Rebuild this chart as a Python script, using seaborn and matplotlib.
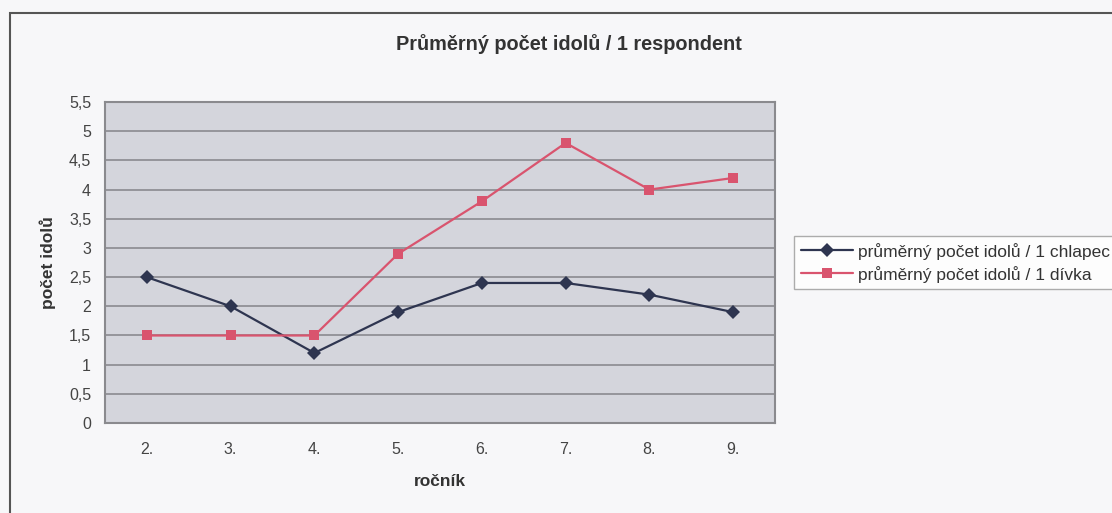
import matplotlib.pyplot as plt
import pandas as pd
import seaborn as sns

# values
rocnik = ['2.', '3.', '4.', '5.', '6.', '7.', '8.', '9.']
chlapec = [2.5, 2.0, 1.2, 1.9, 2.4, 2.4, 2.2, 1.9]
divka = [1.5, 1.5, 1.5, 2.9, 3.8, 4.8, 4.0, 4.2]
y_ticks = [0, 0.5, 1, 1.5, 2, 2.5, 3, 3.5, 4, 4.5, 5, 5.5]
lbl_chlapec = 'průměrný počet idolů / 1 chlapec'
lbl_divka = 'průměrný počet idolů / 1 dívka'

df = pd.DataFrame({
    'rocnik': rocnik * 2,
    'pocet': chlapec + divka,
    'serie': [lbl_chlapec] * len(rocnik) + [lbl_divka] * len(rocnik),
})

sns.set_theme(style='white')
plt.rcParams['font.family'] = ['Liberation Sans', 'DejaVu Sans']

fig = plt.figure(figsize=(11.12, 5.13), dpi=100)
fig.patch.set_facecolor('#f7f7f9')
ax = fig.add_axes([0.0944, 0.1754, 0.6026, 0.6256])
ax.set_facecolor('#d4d5dc')

# chart frame (scan cuts it off on the right and bottom)
fig.add_artist(plt.Rectangle((10 / 1112, -0.1), 1.2, 1 - 13 / 513 + 0.1,
                             transform=fig.transFigure, fill=False,
                             edgecolor='#555555', linewidth=1.5))

sns.lineplot(data=df, x='rocnik', y='pocet', hue='serie', style='serie',
             palette={lbl_chlapec: '#2e3550', lbl_divka: '#d9546e'},
             markers={lbl_chlapec: 'D', lbl_divka: 's'},
             dashes=False, markersize=7.5, linewidth=1.6,
             markeredgewidth=0, sort=False, ax=ax)

ax.set_xlim(-0.5, len(rocnik) - 0.5)
ax.set_ylim(0, 5.5)
ax.set_yticks(y_ticks)
ax.set_yticklabels([f'{v:g}'.replace('.', ',') for v in y_ticks])
ax.yaxis.grid(True, color='#8a8a90', linewidth=1.2)
ax.set_axisbelow(True)
for s in ax.spines.values():
    s.set_color('#8a8a8e')
    s.set_linewidth(1.5)
ax.tick_params(axis='both', labelsize=11.5, colors='#444444', length=0, pad=10)
ax.tick_params(axis='x', pad=14)

ax.set_xlabel('ročník', fontsize=12.5, fontweight='bold', color='#333333', labelpad=12)
ax.set_ylabel('počet idolů', fontsize=12.5, fontweight='bold', color='#333333', labelpad=9)

fig.text(0.512, 0.915, 'Průměrný počet idolů / 1 respondent', ha='center',
         va='center', fontsize=14.3, fontweight='bold', color='#333333')

leg = ax.legend(loc='center left', bbox_to_anchor=(1.015, 0.5), frameon=True,
                fontsize=12.5, handlelength=3.0, handletextpad=0.3,
                borderpad=0.4, labelspacing=0.35, fancybox=False)
leg.get_frame().set_edgecolor('#999999')
leg.get_frame().set_facecolor('white')
for t in leg.get_texts():
    t.set_color('#333333')

fig.savefig('out.png', dpi=100, facecolor=fig.get_facecolor())
